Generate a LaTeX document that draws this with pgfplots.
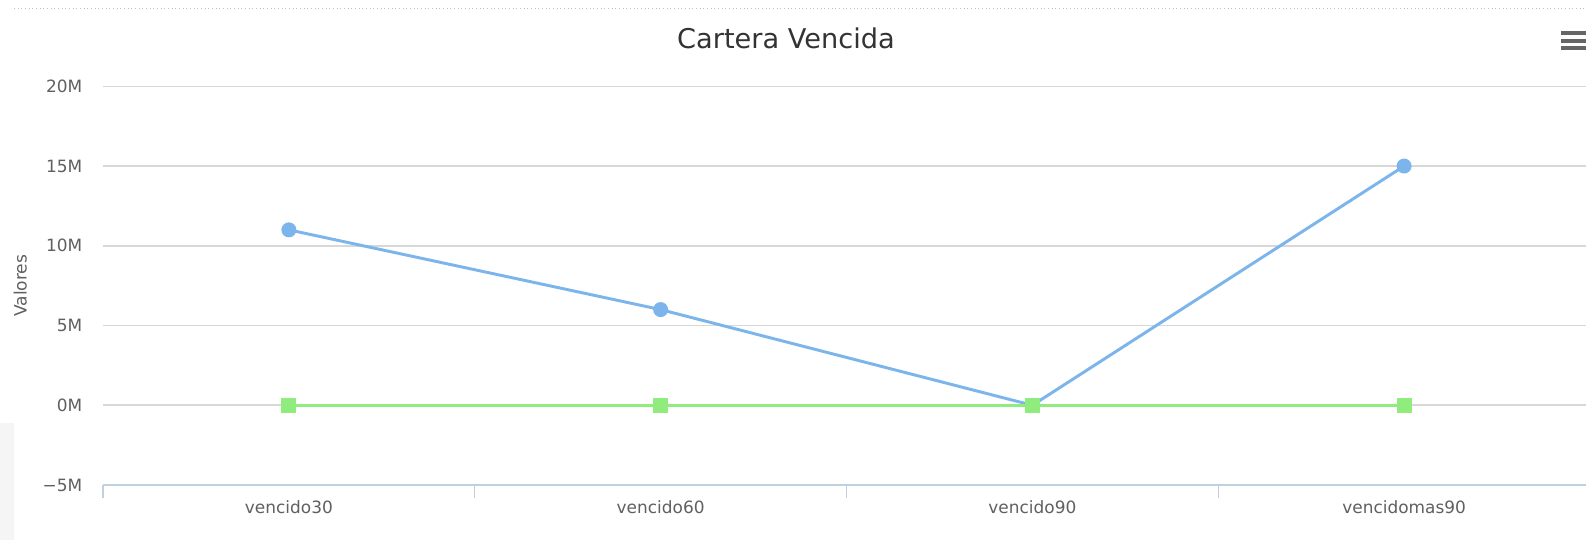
\documentclass[border=0pt]{standalone}
\usepackage{fontspec}
\setmainfont{DejaVu Sans}
\usepackage{pgfplots}
\pgfplotsset{compat=1.18}
\definecolor{serA}{HTML}{7CB5EC}
\definecolor{serB}{HTML}{90ED7D}
\definecolor{gridc}{HTML}{D8D8D8}
\definecolor{axisc}{HTML}{C0D0E0}
\definecolor{labc}{HTML}{606060}
\definecolor{titc}{HTML}{333333}
\begin{document}
\begin{tikzpicture}[x=0.75pt,y=0.75pt]
\useasboundingbox (0,0) rectangle (1586,540);
\fill[white] (0,0) rectangle (1586,540);
\fill[black!4] (0,0) rectangle (14,117);
\draw[black!25, dotted, line width=0.75pt] (14,531) -- (1586,531);
\foreach \yy in {507,499,492} \draw[black!60, line width=3pt] (1561,\yy) -- (1590,\yy);
\node[titc, font=\fontsize{20.4pt}{24pt}\selectfont] at (786,502) {Cartera Vencida};
\begin{axis}[
  at={(77.25pt,41.25pt)}, anchor=south west,
  scale only axis, width=1115.25pt, height=299pt,
  xmin=-0.5, xmax=3.5, ymin=-5, ymax=20,
  xtick={-0.5,0.5,1.5,2.5,3.5},
  x tick label as interval,
  xticklabels={vencido30,vencido60,vencido90,vencidomas90},
  ytick={-5,0,5,10,15,20},
  yticklabels={−5M,0M,5M,10M,15M,20M},
  axis x line*=bottom, axis y line*=left,
  x axis line style={axisc, line width=0.9pt},
  y axis line style={draw=none},
  xtick align=outside, major tick length=9.75pt,
  xtick style={axisc, line width=0.9pt},
  ytick style={draw=none},
  ymajorgrids, grid style={gridc, line width=1.2pt},
  ticklabel style={labc, font=\fontsize{12.7pt}{14pt}\selectfont},
  yticklabel style={anchor=east, xshift=-12pt},
  xticklabel style={anchor=center, yshift=-7pt},
  ylabel={Valores},
  ylabel style={labc, font=\fontsize{12.8pt}{15pt}\selectfont, at={(axis description cs:0,0.5)}, anchor=center, yshift=62pt},
  clip=false,
]
\addplot[serA, line width=2.2pt, mark=*, mark size=4.5pt, mark options={fill=serA, draw=none}]
  coordinates {(0,11) (1,6) (2,0) (3,15)};
\addplot[serB, line width=2.2pt, mark=square*, mark size=4.5pt, mark options={fill=serB, draw=none}]
  coordinates {(0,0) (1,0) (2,0) (3,0)};
\end{axis}
\end{tikzpicture}
\end{document}
